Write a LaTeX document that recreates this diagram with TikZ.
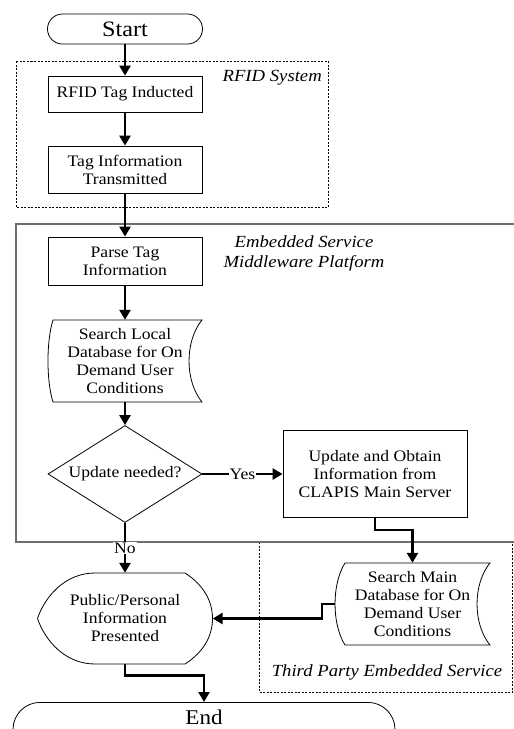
\documentclass[tikz,border=0pt]{standalone}
\usepackage{fontspec}
\setmainfont[FakeStretch=1.1]{Liberation Serif}
\usetikzlibrary{arrows.meta,shapes.geometric,calc}
\definecolor{grpgray}{RGB}{110,110,110}
\begin{document}
\begin{tikzpicture}[x=1pt,y=-1pt,
  bodyfont/.style={font=\fontsize{16pt}{18pt}\selectfont},
  box/.style={draw, line width=0.8pt, minimum width=154pt, align=center, inner sep=2pt, bodyfont},
  txt/.style={inner sep=0pt, align=center, bodyfont},
  outline/.style={draw, line width=0.8pt},
  term/.style={draw, line width=0.8pt, font=\fontsize{22pt}{24pt}\selectfont},
  dashbox/.style={draw, line width=0.8pt, dash pattern=on 2pt off 1.5pt},
  solidgrp/.style={draw=grpgray, line width=1.3pt},
  grplbl/.style={font=\fontsize{17pt}{20pt}\selectfont\itshape, inner sep=0pt},
  arr/.style={draw, line width=2.6pt, -{Triangle[length=10pt,width=11pt]}},
  lbl/.style={fill=white, inner sep=1pt, bodyfont}
]
\useasboundingbox (0,0) rectangle (514,729);

% group containers
\draw[dashbox] (16,61) rectangle (328,207);
\node[grplbl, anchor=east] (lblrfid) at (322,78) {RFID System};
\draw[dashbox] (259,542) rectangle (512.5,692);
\node[grplbl] (lbltp) at (387,672) {Third Party Embedded Service};
\draw[solidgrp] (514,224) -- (16,224) -- (16,542) -- (514,542);
\node[grplbl, align=center] (lblemb) at (304,253) {Embedded Service\\Middleware Platform};

% nodes
\node[term, minimum width=155pt, minimum height=30pt, rounded corners=15pt, inner sep=0pt] (start) at (125,29) {Start};
\node[box, minimum height=36pt] (rfid) at (125,94) {RFID Tag Inducted};
\node[box, minimum height=47pt] (tag) at (125,169.5) {Tag Information\\Transmitted};
\node[box, minimum height=48pt] (parse) at (125,261) {Parse Tag\\Information};
\node[txt, minimum width=154pt, minimum height=82pt] (ldb) at (125,361) {Search Local\\Database for On\\Demand User\\Conditions};
\node[diamond, draw, line width=0.8pt, aspect=1.6, minimum width=154pt, minimum height=97pt, inner sep=0pt, bodyfont] (dia) at (125,474) {Update needed?};
\node[box, minimum width=184pt, minimum height=87pt] (upd) at (375,474) {Update and Obtain\\Information from\\CLAPIS Main Server};
\node[txt, minimum width=155pt, minimum height=82pt] (mdb) at (412.5,604) {Search Main\\Database for On\\Demand User\\Conditions};
\node[txt, minimum width=175pt, minimum height=91pt] (pub) at (125,618.5) {Public/Personal\\Information\\Presented};
\node[term, font=\fontsize{21pt}{23pt}\selectfont, minimum width=382pt, rounded corners=27pt, inner ysep=0pt, text height=22pt, text depth=32pt, anchor=north] (end) at (204,702) {End};

% shape outlines
\draw[outline, shift={(ldb.center)}] (-72,-41) -- (77,-41) .. controls (59.7,-20) and (59.7,20) .. (77,41) -- (-72,41) .. controls (-78.7,20) and (-78.7,-20) .. cycle;
\draw[outline, shift={(mdb.center)}] (-67.5,-41) -- (77.5,-41) .. controls (60.2,-20) and (60.2,20) .. (77.5,41) -- (-67.5,41) .. controls (-80.8,20) and (-80.8,-20) .. cycle;
\draw[outline, shift={(pub.center)}] (-30,-45.5) -- (60,-45.5) .. controls (78,-34) and (87.5,-18) .. (87.5,0) .. controls (87.5,18) and (78,34) .. (60,45.5) -- (-30,45.5) .. controls (-60,45.5) and (-80,22) .. (-87.5,0) .. controls (-80,-22) and (-60,-45.5) .. cycle;

% connectors
\draw[arr] (start) -- (rfid);
\draw[arr] (rfid) -- (tag);
\draw[arr] (tag) -- (parse);
\draw[arr] (parse) -- (ldb);
\draw[arr] (ldb) -- (dia);
\draw[arr] (dia) -- node[lbl] {Yes} (upd);
\draw[arr] (dia) -- node[lbl] {No} (pub);
\draw[arr] (upd.south) -- ++(0,12) -| (mdb.north);
\draw[arr] (mdb.west) -- ++(-13,0) |- (pub.east);
\draw[arr] (pub.south) -- ++(0,11) -| (end.north);
\end{tikzpicture}
\end{document}
